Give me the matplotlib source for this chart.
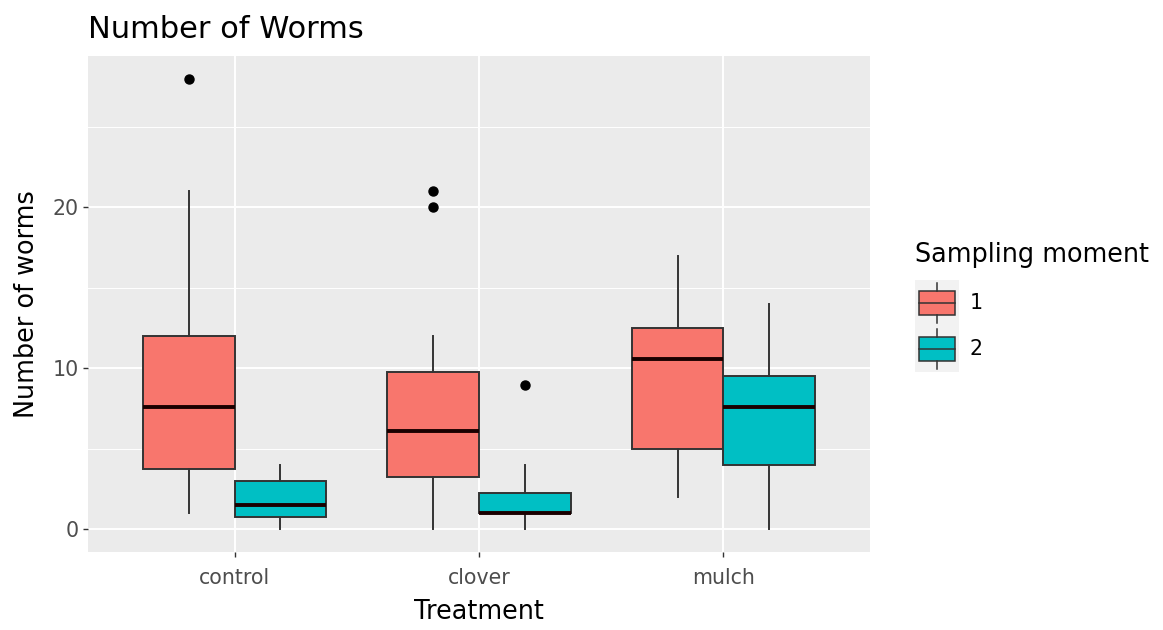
import numpy as np
import matplotlib.pyplot as plt
from matplotlib.patches import Patch, Rectangle
from matplotlib.lines import Line2D
from matplotlib.legend_handler import HandlerBase

treatments = ['control', 'clover', 'mulch']
moments = ['1', '2']

# box stats, one entry per treatment
whislo_1 = [1, 0, 2]
q1_1 = [3.75, 3.25, 5]
med_1 = [7.6, 6.1, 10.6]
q3_1 = [12, 9.75, 12.5]
whishi_1 = [21, 12, 17]
fliers_1 = [[28], [20, 21], []]

whislo_2 = [0, 0, 0]
q1_2 = [0.75, 1, 4]
med_2 = [1.5, 1, 7.6]
q3_2 = [3, 2.25, 9.5]
whishi_2 = [4, 4, 14]
fliers_2 = [[], [9], []]

colors = ['#F8766D', '#00BFC4']
edge = '#333333'
panel_bg = '#EBEBEB'


def make_stats(lo, q1, med, q3, hi, fl):
    return [dict(whislo=a, q1=b, med=c, q3=d, whishi=e, fliers=f)
            for a, b, c, d, e, f in zip(lo, q1, med, q3, hi, fl)]


groups = [make_stats(whislo_1, q1_1, med_1, q3_1, whishi_1, fliers_1),
          make_stats(whislo_2, q1_2, med_2, q3_2, whishi_2, fliers_2)]


class BoxKey(HandlerBase):
    def create_artists(self, legend, orig, xd, yd, w, h, fontsize, trans):
        x0, y0 = -xd, -yd
        bg = Rectangle((x0, y0), w, h, fc='#F2F2F2', ec='none', transform=trans)
        box = Rectangle((x0 + 0.1 * w, y0 + 0.24 * h), 0.8 * w, 0.52 * h,
                        fc=orig.get_facecolor(), ec=edge, lw=1.1, transform=trans)
        med = Line2D([x0 + 0.1 * w, x0 + 0.9 * w], [y0 + 0.5 * h] * 2,
                     color=edge, lw=1.1, transform=trans)
        wlo = Line2D([x0 + 0.5 * w] * 2, [y0 + 0.06 * h, y0 + 0.24 * h],
                     color=edge, lw=1.1, transform=trans)
        whi = Line2D([x0 + 0.5 * w] * 2, [y0 + 0.76 * h, y0 + 0.94 * h],
                     color=edge, lw=1.1, transform=trans)
        return [bg, box, med, wlo, whi]


fig = plt.figure(figsize=(11.63, 6.3), dpi=100)
ax = fig.add_axes([0.0757, 0.1238, 0.6723, 0.7873])
ax.set_facecolor(panel_bg)
for s in ax.spines.values():
    s.set_visible(False)

base = np.arange(1, len(treatments) + 1)
width = 0.375
for i, stats in enumerate(groups):
    pos = base + (i - 0.5) * width
    ax.bxp(stats, positions=pos, widths=width, patch_artist=True,
           showcaps=False, manage_ticks=False, zorder=3,
           boxprops=dict(facecolor=colors[i], edgecolor=edge, linewidth=1.4),
           whiskerprops=dict(color=edge, linewidth=1.4),
           medianprops=dict(color='#1a0000', linewidth=2.8, solid_capstyle='butt'),
           flierprops=dict(marker='o', markerfacecolor='black',
                           markeredgecolor='black', markersize=6.5))

ax.set_xlim(0.4, 3.6)
ax.set_ylim(-1.4, 29.4)
ax.set_xticks(base)
ax.set_xticklabels(treatments)
ax.set_yticks([0, 10, 20])
ax.set_yticks([5, 15, 25], minor=True)
ax.grid(True, which='major', color='white', linewidth=1.4, zorder=0)
ax.grid(True, which='minor', axis='y', color='white', linewidth=0.7, zorder=0)
ax.set_axisbelow(True)
ax.tick_params(axis='both', which='major', colors='#333333', length=3.6, width=1.0,
               labelcolor='#4D4D4D', labelsize=14.8, pad=3)
ax.tick_params(axis='x', which='major', pad=8)
ax.tick_params(axis='y', which='minor', length=0)

ax.set_xlabel('Treatment', fontsize=18.4, labelpad=8)
ax.set_ylabel('Number of worms', fontsize=18.4, labelpad=9)
ax.set_title('Number of Worms', loc='left', fontsize=22, pad=13)

fig.text(915 / 1163, 1 - 255 / 630, 'Sampling moment', fontsize=18.4,
         ha='left', va='center')
handles = [Patch(facecolor=c) for c in colors]
leg = fig.legend(handles, moments, loc='upper left',
                 bbox_to_anchor=(915 / 1163, 1 - 280 / 630), frameon=False,
                 handler_map={Patch: BoxKey()}, fontsize=14.8,
                 handlelength=2.14, handleheight=3.06,
                 labelspacing=0, handletextpad=0.5, borderpad=0,
                 borderaxespad=0)

fig.savefig('out.png', dpi=100)
